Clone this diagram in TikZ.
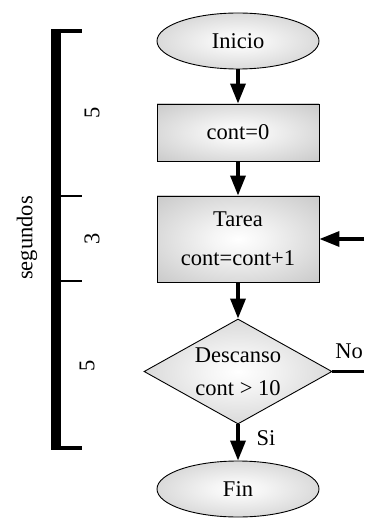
\documentclass[tikz,border=0pt]{standalone}
\usepackage{fontspec}
\setmainfont{Liberation Serif}
\usetikzlibrary{shapes.geometric,arrows.meta}

% soft radial fill used by every flowchart block
\pgfdeclareradialshading{softgray}{\pgfpoint{0bp}{0bp}}{%
  color(0bp)=(white); color(8bp)=(white!96!black); color(50bp)=(black!30);
  color(71bp)=(black!42); color(100bp)=(black!42)}

\tikzset{
  block/.style={draw=black, line width=0.9pt, shading=softgray,
    font=\fontsize{22.5}{36}\selectfont, align=center, inner sep=0pt},
  terminal/.style={block, ellipse, minimum width=162pt, minimum height=56pt},
  process/.style={block, rectangle, minimum width=162pt},
  decision/.style={block, diamond, aspect=1.79, minimum width=188pt,
    minimum height=105pt, font=\fontsize{22.5}{33}\selectfont},
  flow/.style={line width=3.4pt, -{Triangle[width=15pt,length=20pt]}},
  plainflow/.style={line width=3pt},
  lbl/.style={font=\fontsize{22.5}{26}\selectfont, inner sep=0pt},
  scalebar/.style={line width=10.5pt, line cap=butt},
}

\begin{document}
\begin{tikzpicture}[x=1pt,y=-1pt]
  \useasboundingbox (0,0) rectangle (364,518);

  % time scale on the left
  \draw[scalebar] (56,29) -- (56,450);
  \draw[line width=4pt] (51,31) -- (82,31);
  \draw[line width=2.5pt] (56,196) -- (82,196);
  \draw[line width=2.5pt] (56,281) -- (82,281);
  \draw[line width=3.5pt] (51,448) -- (82,448);
  \node[lbl, rotate=90] (segs) at (27,238) {segundos};
  \node[lbl, rotate=90] (t1) at (92,113) {5};
  \node[lbl, rotate=90] (t2) at (92,239) {3};
  \node[lbl, rotate=90] (t3) at (87,366) {5};

  % flowchart blocks
  \node[terminal] (inicio) at (238,41) {\raisebox{-3pt}{Inicio}};
  \node[process, minimum height=57pt] (cero) at (238,132.5) {\raisebox{-4pt}{cont=0}};
  \node[process, minimum height=86pt] (tarea) at (238,239)
    {\raisebox{-4pt}{\shortstack{Tarea\\[21pt]cont=cont+1}}};
  \node[decision] (desc) at (238,371.5) {Descanso\\cont > 10};
  \node[terminal] (fin) at (238,489) {\raisebox{-2pt}{Fin}};

  % connectors
  \draw[flow] (inicio) -- (cero);
  \draw[flow] (cero) -- (tarea);
  \draw[flow] (tarea) -- (desc);
  \draw[flow] (desc) -- (fin);

  \coordinate (ret) at (364,239);
  \coordinate (out) at (364,371.5);
  \draw[flow] (ret) -- (tarea.east);
  \draw[plainflow] (desc.east) -- (out);

  \node[lbl] (no) at (349,351) {No};
  \node[lbl] (si) at (266,438) {Si};
\end{tikzpicture}
\end{document}
